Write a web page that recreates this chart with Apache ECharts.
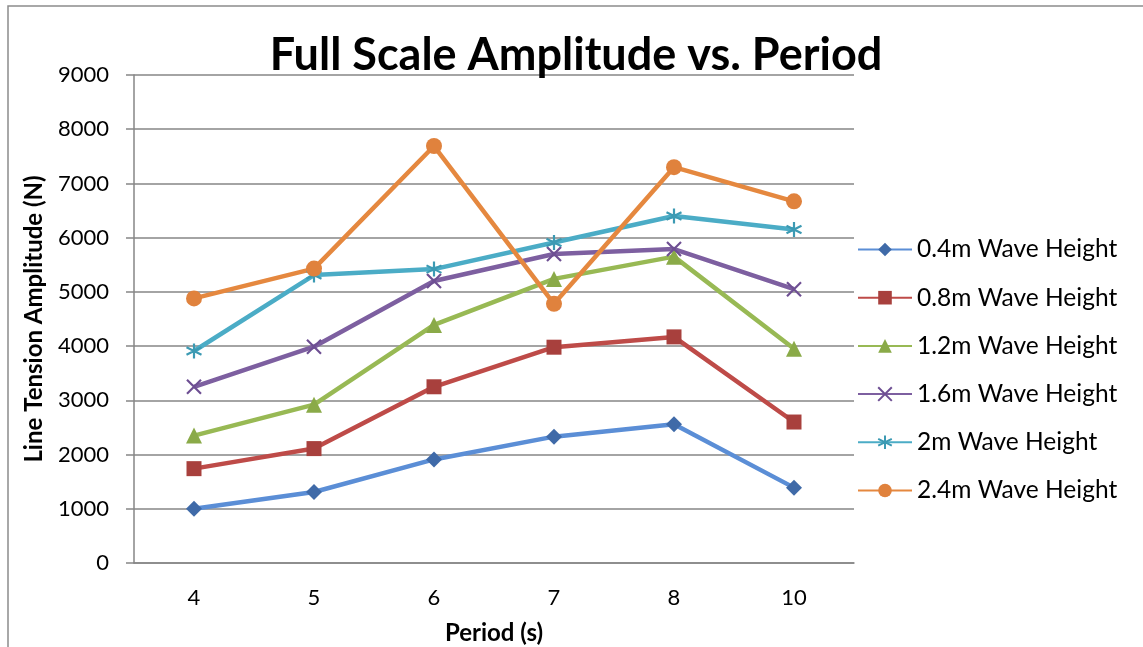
<!DOCTYPE html>
<html>
<head>
<meta charset="utf-8">
<script src="https://cdn.jsdelivr.net/npm/echarts@6/dist/echarts.min.js"></script>
<style>
html,body{margin:0;padding:0;background:#fff;overflow:hidden;}
#chart{width:1143px;height:647px;}
</style>
</head>
<body>
<div id="chart"></div>
<script>
const periods = ['4', '5', '6', '7', '8', '10'];
const yTicks = [0, 1000, 2000, 3000, 4000, 5000, 6000, 7000, 8000, 9000];
const seriesNames = ['0.4m Wave Height', '0.8m Wave Height', '1.2m Wave Height', '1.6m Wave Height', '2m Wave Height', '2.4m Wave Height'];
const h04 = [1000, 1310, 1910, 2330, 2560, 1390];
const h08 = [1740, 2110, 3250, 3980, 4170, 2600];
const h12 = [2350, 2920, 4390, 5240, 5650, 3950];
const h16 = [3250, 3990, 5200, 5700, 5790, 5050];
const h20 = [3910, 5310, 5420, 5910, 6400, 6150];
const h24 = [4880, 5430, 7690, 4780, 7300, 6670];

const allData = [h04, h08, h12, h16, h20, h24];
const lineColors = ['#5B8ED6', '#BE4B48', '#98B954', '#7D5FA0', '#4BACC6', '#E5883F'];
const markerColors = ['#3F6AA8', '#A8403D', '#8AAA48', '#6E4F93', '#3C9AB3', '#E0823D'];
const XPATH = 'path://M0,0L10,10M10,0L0,10';
const STAR = 'path://M5,0L5,10M0,2.5L10,7.5M10,2.5L0,7.5';
const symbols = ['diamond', 'rect', 'triangle', XPATH, STAR, 'circle'];
const sizes = [16, 15, 16, 14, 15, 16];

const chart = echarts.init(document.getElementById('chart'), null, {width: 1143, height: 647});
const font = 'Lato, "Open Sans", sans-serif';

chart.setOption({
  animation: false,
  backgroundColor: '#fff',
  graphic: [{
    type: 'rect',
    shape: {x: 8, y: 6, width: 1160, height: 700},
    style: {fill: 'none', stroke: '#8c8c8c', lineWidth: 1.5},
    z: -1
  }],
  title: {
    text: 'Full Scale Amplitude vs. Period',
    left: 571, top: 28, textAlign: 'center',
    textStyle: {fontFamily: font, fontWeight: 'bold', fontSize: 45, color: '#000'}
  },
  legend: {
    orient: 'vertical',
    left: 852, top: 232,
    itemWidth: 54, itemHeight: 17, itemGap: 23.2,
    textStyle: {fontFamily: font, fontSize: 24.5, color: '#000'},
    data: seriesNames
  },
  grid: {left: 134, right: 289, top: 75, bottom: 84, containLabel: false, outerBoundsMode: 'none'},
  xAxis: {
    type: 'category',
    data: periods,
    boundaryGap: true,
    name: 'Period (s)',
    nameLocation: 'middle',
    nameGap: 58,
    nameTextStyle: {fontFamily: font, fontWeight: 'bold', fontSize: 24, color: '#000'},
    axisLine: {lineStyle: {color: '#868686', width: 1.5}},
    axisTick: {show: false},
    axisLabel: {fontFamily: font, fontSize: 22, color: '#000', margin: 24}
  },
  yAxis: {
    type: 'value',
    min: 0, max: 9000, interval: 1000,
    name: 'Line Tension Amplitude (N)',
    nameLocation: 'middle',
    nameGap: 88,
    nameTextStyle: {fontFamily: font, fontWeight: 'bold', fontSize: 24, color: '#000'},
    axisLine: {show: true, lineStyle: {color: '#868686', width: 1.5}},
    axisTick: {show: true, length: 8, lineStyle: {color: '#868686', width: 1.5}},
    axisLabel: {fontFamily: font, fontSize: 22, color: '#000', margin: 25,
      formatter: v => yTicks.includes(v) ? String(v) : ''},
    splitLine: {lineStyle: {color: '#868686', width: 1.5}}
  },
  series: seriesNames.map((n, i) => ({
    name: n,
    type: 'line',
    data: allData[i],
    symbol: symbols[i],
    symbolSize: sizes[i],
    showAllSymbol: true,
    lineStyle: {color: lineColors[i], width: 4.5},
    itemStyle: {
      color: markerColors[i],
      borderColor: markerColors[i],
      borderWidth: (i === 3 || i === 4) ? 2.2 : 0
    },
    emphasis: {disabled: true}
  }))
});
</script>
</body>
</html>
